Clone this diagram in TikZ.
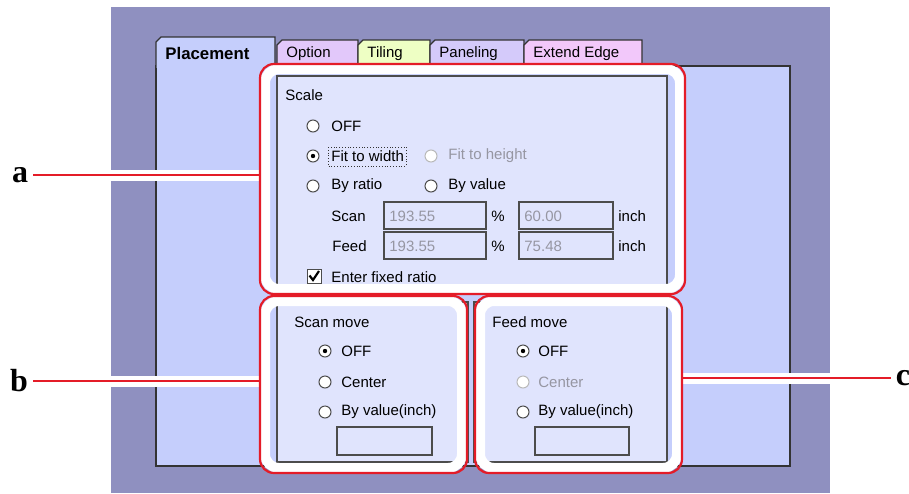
\documentclass[tikz,border=0pt]{standalone}
\usepackage{fontspec}
\setmainfont{Liberation Sans}
\newfontfamily\labfont{Liberation Serif}
\usetikzlibrary{fit}

\definecolor{bgpurple}{RGB}{143,144,192}
\definecolor{panelblue}{RGB}{197,206,252}
\definecolor{groupfill}{RGB}{224,228,253}
\definecolor{tabopt}{RGB}{226,200,250}
\definecolor{tabtile}{RGB}{238,255,196}
\definecolor{tabpanel}{RGB}{212,202,250}
\definecolor{tabext}{RGB}{242,200,250}
\definecolor{marker}{RGB}{228,28,40}
\definecolor{dimtext}{RGB}{150,150,162}

\newcommand\uifont{\fontsize{7.5}{9}\selectfont}

\tikzset{
  ui/.style={font=\uifont, anchor=west, inner sep=0pt},
  dim/.style={ui, text=dimtext},
  radio/.style={circle, draw=gray!60!black, fill=white, minimum size=6pt, inner sep=0pt, line width=0.5pt},
  dimradio/.style={radio, draw=gray!55},
  field/.style={draw=black!70, fill=groupfill, line width=0.6pt},
  tab/.style={draw=black!80, line width=0.6pt},
  panel/.style={draw=black!80, fill=panelblue, line width=0.6pt},
  group/.style={draw=black!70, fill=groupfill, line width=0.6pt},
  halo/.style={draw=white, line width=5pt, rounded corners=7pt, inner sep=0pt},
  callout/.style={draw=marker, line width=1.1pt, rounded corners=7pt},
  leader/.style={draw=marker, line width=1.1pt, preaction={draw=white, line width=5.5pt}},
  letter/.style={font=\labfont\bfseries\fontsize{16}{18}\selectfont, inner sep=2.5pt},
}

\begin{document}
\begin{tikzpicture}[x=0.5pt, y=-0.5pt]
\useasboundingbox (0,0) rectangle (909,493);

% window and tab panel
\fill[bgpurple] (111,7) rectangle (830,493);
\filldraw[panel] (156,66) rectangle (790,466);

\foreach \xa/\xb/\col/\txt [count=\i] in {277/358/tabopt/Option, 358/430/tabtile/Tiling, 430/524/tabpanel/Paneling, 524/642/tabext/Extend Edge} {
  \filldraw[tab, fill=\col] (\xa,66) -- (\xa,45) -- (\xa+5,40) -- (\xb,40) -- (\xb,66);
  \node[ui] (tab\i) at (\xa+9,54) {\txt};
}
\filldraw[tab, fill=panelblue] (156,67.5) -- (156,42) -- (161,37) -- (275,37) -- (275,67.5);
\node[ui, font=\bfseries\fontsize{8.4}{10}\selectfont] (tab0) at (165,53) {Placement};

% group boxes
\filldraw[group] (277,76) rectangle (667,292);
\filldraw[group] (277,302) rectangle (468,462);
\filldraw[group] (474,302) rectangle (667,462);

% Scale
\node[ui] (scale) at (285,95) {Scale};
\node[radio] (r1) at (313,126) {};
\node[ui] (t1) at (331,126) {OFF};
\node[radio] (r2) at (313,156) {};
\fill (r2) circle (2.2);
\node[ui] (t2) at (331,156) {Fit to width};
\draw[densely dotted, black!80] (328,147) rectangle (406,166);
\node[dimradio] (r3) at (431,156) {};
\node[dim] (t3) at (448,156) {Fit to height};
\node[radio] (r4) at (313,186) {};
\node[ui] (t4) at (331,186) {By ratio};
\node[radio] (r5) at (431,186) {};
\node[ui] (t5) at (448,186) {By value};

\node[ui] (scan) at (331,216) {Scan};
\filldraw[field] (384,202) rectangle (486,229);
\node[dim] (v1) at (389,216) {193.55};
\node[ui] (p1) at (491,216) {\%};
\filldraw[field] (519,202) rectangle (613,229);
\node[dim] (v2) at (524,216) {60.00};
\node[ui] (u1) at (618,216) {inch};

\node[ui] (feed) at (332,246) {Feed};
\filldraw[field] (384,232) rectangle (486,259);
\node[dim] (v3) at (389,246) {193.55};
\node[ui] (p2) at (491,246) {\%};
\filldraw[field] (519,232) rectangle (613,259);
\node[dim] (v4) at (524,246) {75.48};
\node[ui] (u2) at (618,246) {inch};

\filldraw[draw=gray!60!black, fill=white, line width=0.5pt] (307,269) rectangle (321,283);
\draw[line width=1.1pt] (309.5,275.5) -- (313,280) -- (319,271);
\node[ui] (t6) at (331,277) {Enter fixed ratio};

% Scan move
\node[ui] (smove) at (294,322) {Scan move};
\node[radio] (r6) at (325,351) {};
\fill (r6) circle (2.2);
\node[ui] (t7) at (341,351) {OFF};
\node[radio] (r7) at (325,382) {};
\node[ui] (t8) at (341,382) {Center};
\node[radio] (r8) at (325,412) {};
\node[ui] (t9) at (341,412) {By value(inch)};
\filldraw[field] (337,427) rectangle (432,455);

% Feed move
\node[ui] (fmove) at (492,322) {Feed move};
\node[radio] (r9) at (523,351) {};
\fill (r9) circle (2.2);
\node[ui] (t10) at (538,351) {OFF};
\node[dimradio] (r10) at (523,382) {};
\node[dim] (t11) at (538,382) {Center};
\node[radio] (r11) at (523,412) {};
\node[ui] (t12) at (538,412) {By value(inch)};
\filldraw[field] (535,427) rectangle (629,455);

% callouts
\node[halo, fit={(265,69) (680,289)}] (boxa) {};
\node[halo, fit={(265,301) (462,468)}] (boxb) {};
\node[halo, fit={(480,301) (677,468)}] (boxc) {};

\node[letter] (laba) at (20,175) {a};
\node[letter] (labb) at (19,381) {b};
\node[letter] (labc) at (903,378) {c};

\draw[leader] (laba.east) -- (laba.east -| boxa.west);
\draw[leader] (labb.east) -- (labb.east -| boxb.west);
\draw[leader] (labc.west) -- (labc.west -| boxc.east);

\draw[callout] (boxa.north west) rectangle (boxa.south east);
\draw[callout] (boxb.north west) rectangle (boxb.south east);
\draw[callout] (boxc.north west) rectangle (boxc.south east);
\end{tikzpicture}
\end{document}
